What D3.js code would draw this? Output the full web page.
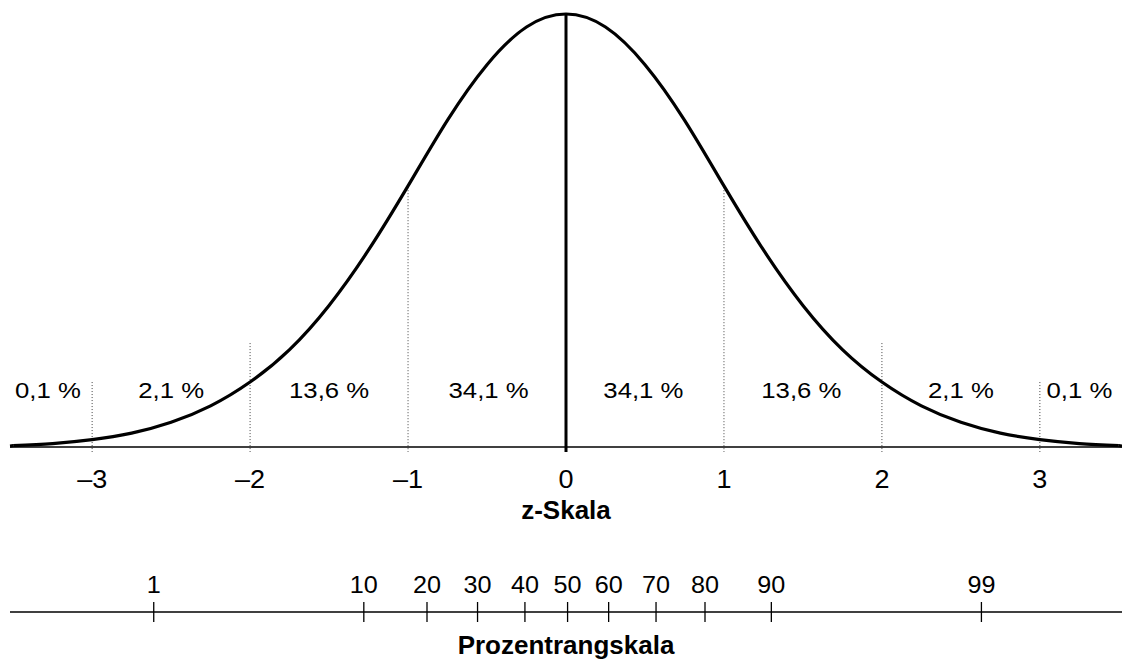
<!DOCTYPE html>
<html>
<head>
<meta charset="utf-8">
<script src="https://cdn.jsdelivr.net/npm/d3@7"></script>
<style>
  html, body { margin: 0; padding: 0; background: #fff; }
  svg { display: block; }
  text { font-family: "Liberation Sans", Arial, Helvetica, sans-serif; fill: #000; }
</style>
</head>
<body>
<svg id="chart" width="1122" height="662"></svg>
<script>
// ---- data ----
const curveZ = [-3.5,-3.25,-3,-2.75,-2.5,-2.25,-2,-1.75,-1.5,-1.25,-1,-0.75,-0.5,-0.25,0,0.25,0.5,0.75,1,1.25,1.5,1.75,2,2.25,2.5,2.75,3,3.25,3.5];
const curveH = [0.003,0.008,0.017,0.032,0.057,0.095,0.15,0.225,0.327,0.455,0.603,0.755,0.883,0.97,1,0.97,0.883,0.755,0.603,0.455,0.327,0.225,0.15,0.095,0.057,0.032,0.017,0.008,0.003];

const zTicks = [-3,-2,-1,0,1,2,3];
const zTickLabels = ["\u20133","\u20132","\u20131","0","1","2","3"];

const dividerZ = [-3,-2,-1,1,2,3];
const dividerTop = [0.15,0.24,0.6,0.6,0.24,0.15];

const segmentLabels = ["0,1 %","2,1 %","13,6 %","34,1 %","34,1 %","13,6 %","2,1 %","0,1 %"];
const segmentCenterZ = [-3.28,-2.5,-1.5,-0.49,0.49,1.49,2.5,3.25];

const percentileLabels = ["1","10","20","30","40","50","60","70","80","90","99"];
const percentileZ = [-2.61,-1.28,-0.88,-0.56,-0.26,0.01,0.27,0.57,0.88,1.3,2.63];

const zAxisTitle = "z-Skala";
const pAxisTitle = "Prozentrangskala";

// ---- drawing ----
const svg = d3.select("#chart");
const x = d3.scaleLinear().domain([-3.52, 3.52]).range([10, 1122]);
const y = d3.scaleLinear().domain([0, 1]).range([447, 14]);

function stretchedText(g, tx, ty, str, size, sx) {
  return g.append("text")
    .attr("transform", `translate(${tx},${ty}) scale(${sx},1)`)
    .attr("text-anchor", "middle")
    .attr("font-size", size)
    .text(str);
}

// dotted dividers
svg.append("g").selectAll("line").data(dividerZ).join("line")
  .attr("x1", d => x(d)).attr("x2", d => x(d))
  .attr("y1", (d, i) => y(dividerTop[i]))
  .attr("y2", y(0) + 5)
  .attr("stroke", "#444").attr("stroke-width", 1)
  .attr("stroke-dasharray", "1,2");

// baseline
svg.append("line")
  .attr("x1", x(-3.52)).attr("x2", x(3.52))
  .attr("y1", y(0)).attr("y2", y(0))
  .attr("stroke", "#000").attr("stroke-width", 1.5);

// curve
const line = d3.line()
  .x((d, i) => x(curveZ[i]))
  .y((d) => y(d))
  .curve(d3.curveNatural);
svg.append("path")
  .datum(curveH)
  .attr("d", line)
  .attr("fill", "none")
  .attr("stroke", "#000")
  .attr("stroke-width", 3.2);

// extend curve tails to the edges
svg.append("line")
  .attr("x1", x(-3.52)).attr("x2", x(-3.5))
  .attr("y1", y(0.002)).attr("y2", y(0.003))
  .attr("stroke", "#000").attr("stroke-width", 3.2);
svg.append("line")
  .attr("x1", x(3.5)).attr("x2", x(3.52))
  .attr("y1", y(0.003)).attr("y2", y(0.002))
  .attr("stroke", "#000").attr("stroke-width", 3.2);

// center line
svg.append("line")
  .attr("x1", x(0)).attr("x2", x(0))
  .attr("y1", y(1)).attr("y2", y(0) + 5)
  .attr("stroke", "#000").attr("stroke-width", 3);

// segment percentages
const segG = svg.append("g");
segmentLabels.forEach((s, i) => stretchedText(segG, x(segmentCenterZ[i]), 398, s, 23, 1.12));

// z tick labels
const zg = svg.append("g");
zTicks.forEach((t, i) => stretchedText(zg, x(t), 488, zTickLabels[i], 25, 1.08));

// z title
svg.append("text")
  .attr("x", x(0)).attr("y", 519)
  .attr("text-anchor", "middle")
  .attr("font-size", 26).attr("font-weight", "bold")
  .text(zAxisTitle);

// percentile axis
const pY = 612;
svg.append("line")
  .attr("x1", 10).attr("x2", 1122)
  .attr("y1", pY).attr("y2", pY)
  .attr("stroke", "#000").attr("stroke-width", 1.5);
svg.append("g").selectAll("line").data(percentileZ).join("line")
  .attr("x1", d => x(d)).attr("x2", d => x(d))
  .attr("y1", pY - 10).attr("y2", pY + 10)
  .attr("stroke", "#000").attr("stroke-width", 1.3);
const pg = svg.append("g");
percentileZ.forEach((z, i) => stretchedText(pg, x(z), 593, percentileLabels[i], 24, 1.05));

svg.append("text")
  .attr("x", x(0)).attr("y", 654)
  .attr("text-anchor", "middle")
  .attr("font-size", 26).attr("font-weight", "bold")
  .text(pAxisTitle);
</script>
</body>
</html>
